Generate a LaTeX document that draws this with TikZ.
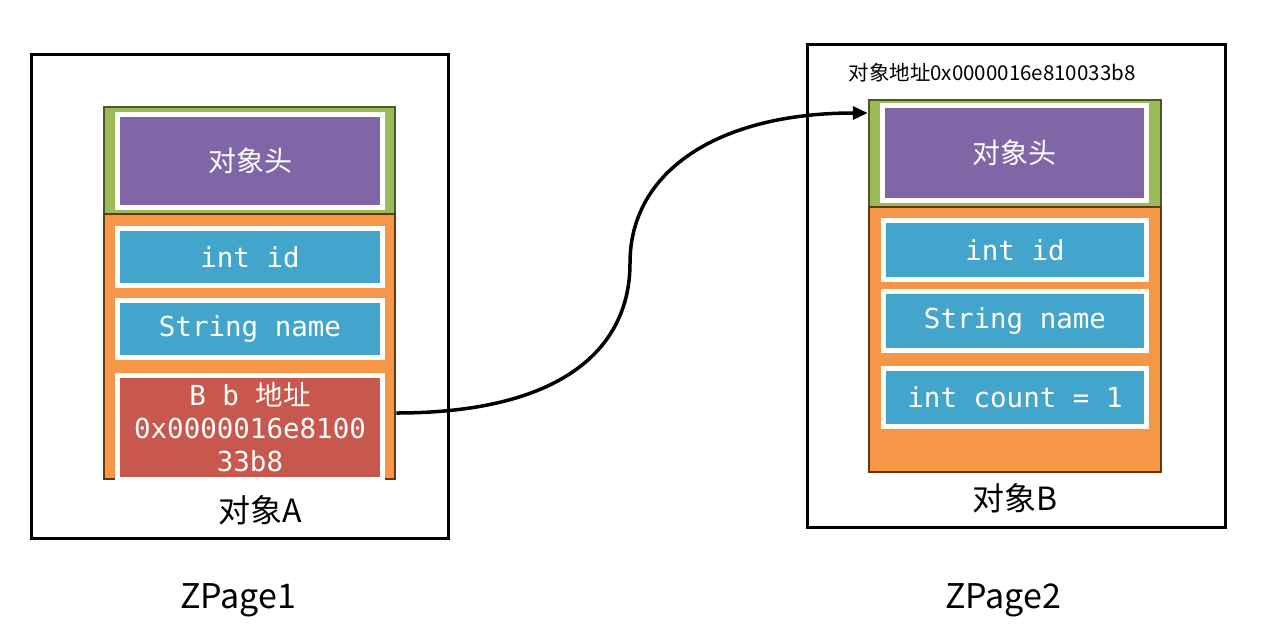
\documentclass[tikz,border=0pt]{standalone}
\usepackage{fontspec}
\newfontfamily\cjk{Noto Sans CJK SC}
\newfontfamily\mono{DejaVu Sans Mono}
\usetikzlibrary{arrows.meta,shadows}
\definecolor{hdgreen}{HTML}{9BBB59}
\definecolor{hdgreenD}{HTML}{4A5A26}
\definecolor{bdorange}{HTML}{F79646}
\definecolor{bdorangeD}{HTML}{5E3A18}
\definecolor{fpurple}{HTML}{8066A6}
\definecolor{fblue}{HTML}{43A5CC}
\definecolor{fred}{HTML}{C8574D}
\tikzset{
  page/.style={draw=black,line width=3pt,minimum width=#1,minimum height=484pt,inner sep=0pt},
  header/.style={fill=hdgreen,draw=hdgreenD,line width=2.5pt,minimum width=291pt,minimum height=107pt,inner sep=0pt},
  body/.style={fill=bdorange,draw=bdorangeD,line width=2.5pt,minimum width=291pt,minimum height=265pt,inner sep=0pt},
  field/.style={draw=white,line width=5pt,minimum width=265pt,inner sep=0pt,text=white,
    drop shadow={opacity=0.25,shadow xshift=1pt,shadow yshift=-2pt}},
  monotxt/.style={font=\mono\fontsize{27.5}{33}\selectfont},
  cjktxt/.style={font=\cjk\fontsize{28}{33}\selectfont},
  lbl/.style={font=\cjk\fontsize{32}{36}\selectfont,text=black},
  zp/.style={font=\cjk\fontsize{34}{40}\selectfont,text=black},
  ptr/.style={line width=3.5pt,-{Triangle[length=15pt,width=13pt]}}
}
\begin{document}
\begin{tikzpicture}[x=1pt,y=-1pt]
\useasboundingbox (0,0) rectangle (1283,630);
% pages
\node[page=417pt] (pageA) at (239.5,296) {};
\node[page=418pt,minimum height=483pt] (pageB) at (1016,285.5) {};
% object A
\node[header] (headA) at (249.5,160.5) {};
\node[body] (bodyA) at (249.5,346.5) {};
\node[field,fill=fpurple,minimum height=93pt,cjktxt] (hA) at (250,161) {对象头};
\node[field,fill=fblue,minimum height=57pt,monotxt] (idA) at (250,257) {int id};
\node[field,fill=fblue,minimum height=57pt,monotxt] (nameA) at (250,329) {String name};
\node[field,fill=fred,minimum height=104pt,monotxt,align=center] (refA) at (250,427.5)
  {B b {\cjk 地址}\\0x0000016e8100\\33b8};
\node[lbl] (labA) at (260,510) {对象A};
\node[zp] (zp1) at (238,600) {ZPage1};
% object B
\node[font=\cjk\fontsize{20.5}{24}\selectfont] (addrB) at (992,73) {对象地址0x0000016e810033b8};
\node[header,minimum width=292pt] (headB) at (1015,153.5) {};
\node[body,minimum width=292pt] (bodyB) at (1015,339.5) {};
\node[field,fill=fpurple,minimum width=264pt,minimum height=95pt,cjktxt] (hB) at (1014.5,153) {对象头};
\node[field,fill=fblue,minimum width=263pt,minimum height=59pt,monotxt] (idB) at (1015,250) {int id};
\node[field,fill=fblue,minimum width=263pt,minimum height=59pt,monotxt] (nameB) at (1015,321) {String name};
\node[field,fill=fblue,minimum width=263pt,minimum height=58pt,monotxt] (cntB) at (1015,397.5) {int count = 1};
\node[lbl] (labB) at (1015,498) {对象B};
\node[zp] (zp2) at (1003,600) {ZPage2};
% pointer
\coordinate (ps) at (bodyA.east |- 0,413);
\coordinate (pe) at (headB.west |- 0,113);
\draw[ptr] (ps) .. controls (560,413) and (630,350) .. (630,263)
  .. controls (630,170) and (720,113) .. (pe);
\end{tikzpicture}
\end{document}
